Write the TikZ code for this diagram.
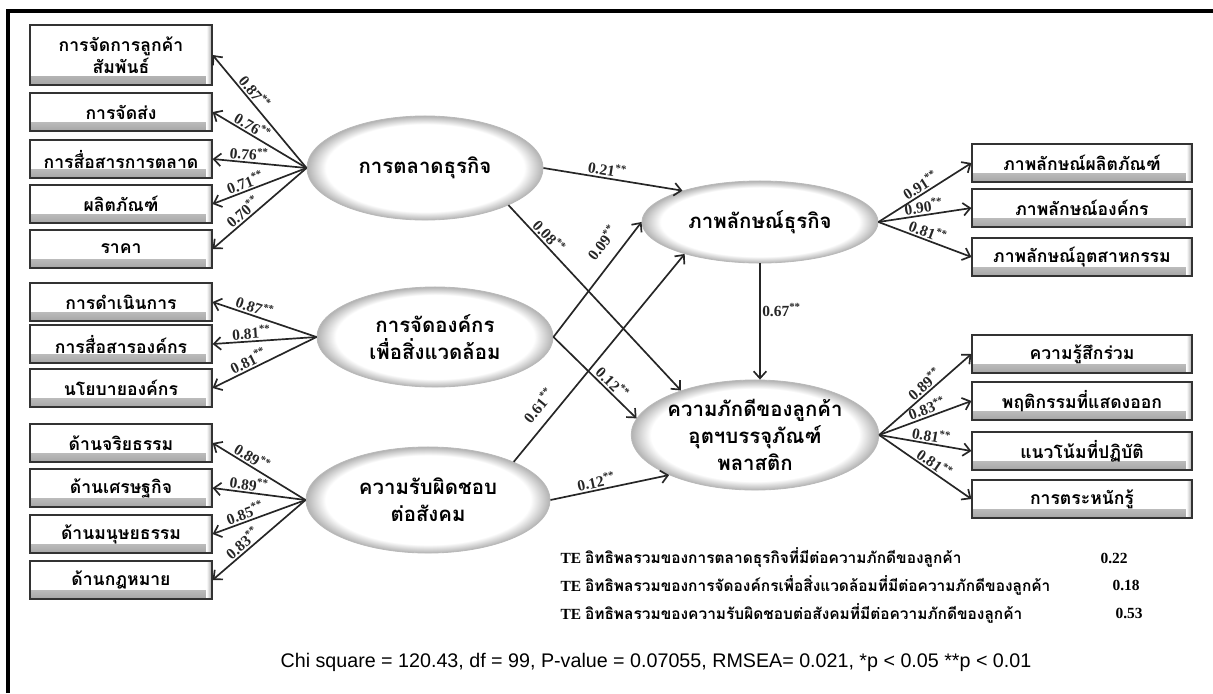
\documentclass[tikz,border=0pt]{standalone}
\usepackage{fontspec}
\setmainfont{Liberation Serif}
\newfontfamily\thaifont[Script=Thai]{Loma}
\newfontfamily\chifont{Liberation Sans}
\usetikzlibrary{shapes,shapes.geometric,arrows.meta}
\pgfdeclareradialshading{rimshade}{\pgfpointorigin}{color(0bp)=(white); color(21bp)=(white); color(25bp)=(gray!60); color(50bp)=(gray!60)}

\begin{document}
\begin{tikzpicture}
	[x=0.025cm,y=-0.025cm,thick,
	obs/.style={shape=rectangle,draw=black!80,line width=0.8pt,fill=white,
		minimum width=4.55cm,minimum height=0.95cm,align=center,inner sep=1pt,
		font=\thaifont\bfseries\fontsize{12.5}{16}\selectfont,
		path picture={\shade[top color=white,bottom color=gray!70]
			([yshift=0.22cm]path picture bounding box.south west) rectangle (path picture bounding box.south east);
			\shade[left color=white,right color=gray!70]
			([xshift=-0.14cm]path picture bounding box.north east) rectangle (path picture bounding box.south east);}},
	obsr/.style={obs,minimum width=5.5cm},
	lat/.style={shape=ellipse,draw=gray!55,line width=0.6pt,shade,shading=rimshade,
		inner sep=0pt,align=center,font=\thaifont\bfseries\fontsize{14.5}{19}\selectfont},
	load/.style={-{Straight Barb[length=5pt,width=9pt]},line width=1.2pt,black!85},
	coefh/.style={font=\bfseries\fontsize{11}{13}\selectfont,inner sep=1pt},
	coef/.style={coefh,sloped,above,pos=0.62},
	te/.style={anchor=west,font=\bfseries\fontsize{11}{13}\selectfont,inner sep=0pt}]
	\useasboundingbox (0,0) rectangle (1213,693);
	\draw[line width=2.2pt] (8,693) -- (8,11) -- (1213,11);
	
	\node[obs,minimum height=1.5cm] (m1) at (121,55) {การจัดการลูกค้า\\สัมพันธ์};
	\node[obs] (m2) at (121,112) {การจัดส่ง};
	\node[obs] (m3) at (121,159) {การสื่อสารการตลาด};
	\node[obs] (m4) at (121,204) {ผลิตภัณฑ์};
	\node[obs] (m5) at (121,249) {ราคา};
	
	\node[obs] (o1) at (121,302) {การดำเนินการ};
	\node[obs] (o2) at (121,344) {การสื่อสารองค์กร};
	\node[obs] (o3) at (121,388) {นโยบายองค์กร};
	
	\node[obs] (s1) at (121,443) {ด้านจริยธรรม};
	\node[obs] (s2) at (121,488) {ด้านเศรษฐกิจ};
	\node[obs] (s3) at (121,534) {ด้านมนุษยธรรม};
	\node[obs] (s4) at (121,580) {ด้านกฎหมาย};
	
	\node[obsr] (i1) at (1082,163) {ภาพลักษณ์ผลิตภัณฑ์};
	\node[obsr] (i2) at (1082,208) {ภาพลักษณ์องค์กร};
	\node[obsr] (i3) at (1082,257) {ภาพลักษณ์อุตสาหกรรม};
	
	\node[obsr] (l1) at (1082,354) {ความรู้สึกร่วม};
	\node[obsr] (l2) at (1082,401) {พฤติกรรมที่แสดงออก};
	\node[obsr] (l3) at (1082,451) {แนวโน้มที่ปฏิบัติ};
	\node[obsr] (l4) at (1082,499) {การตระหนักรู้};
	
	\node[lat,minimum width=5.9cm,minimum height=2.6cm] (mkt) at (425,168) {การตลาดธุรกิจ};
	\node[lat,minimum width=5.9cm,minimum height=2.5cm] (env) at (435,337) {การจัดองค์กร\\เพื่อสิ่งแวดล้อม};
	\node[lat,minimum width=6.1cm,minimum height=2.65cm] (csr) at (428,500) {ความรับผิดชอบ\\ต่อสังคม};
	\node[lat,minimum width=5.9cm,minimum height=2.05cm] (img) at (760,222) {ภาพลักษณ์ธุรกิจ};
	\node[lat,minimum width=5.75cm,minimum height=2.75cm] (loy) at (755,435) {ความภักดีของลูกค้า\\อุตฯบรรจุภัณฑ์\\พลาสติก};
	
	\path
	\foreach \ind/\val in {m1/0.87,m2/0.76,m3/0.76,m4/0.71,m5/0.70}
	{
		(mkt.west) edge[load] node[coef] {\val\textsuperscript{**}} (\ind.east)
	}
	\foreach \ind/\val in {o1/0.87,o2/0.81,o3/0.81}
	{
		(env.west) edge[load] node[coef] {\val\textsuperscript{**}} (\ind.east)
	}
	\foreach \ind/\val in {s1/0.89,s2/0.89,s3/0.85,s4/0.83}
	{
		(csr.west) edge[load] node[coef] {\val\textsuperscript{**}} (\ind.east)
	}
	\foreach \ind/\val in {i1/0.91,i2/0.90,i3/0.81}
	{
		(img.east) edge[load] node[coef,pos=0.5] {\val\textsuperscript{**}} (\ind.west)
	}
	\foreach \ind/\val in {l1/0.89,l2/0.83,l3/0.81,l4/0.81}
	{
		(loy.east) edge[load] node[coef,pos=0.55] {\val\textsuperscript{**}} (\ind.west)
	};
	
	\draw[load] (mkt.east) -- node[coef,pos=0.45] {0.21\textsuperscript{**}} (img.158);
	\draw[load] (mkt.-24) -- node[coef,pos=0.2] {0.08\textsuperscript{**}} (loy.149);
	\draw[load] (env.east) -- node[coef,pos=0.72,above=0.25cm] {0.09\textsuperscript{**}} (img.west);
	\draw[load] (env.east) -- node[coef,pos=0.64] {0.12\textsuperscript{**}} (loy.172);
	\draw[load] (csr.24) -- node[coef,pos=0.22,above=0.2cm] {0.61\textsuperscript{**}} (img.203);
	\draw[load] (csr.east) -- node[coef,pos=0.4] {0.12\textsuperscript{**}} (loy.205);
	\draw[load] (img.south) -- node[coefh,right,pos=0.4] {0.67\textsuperscript{**}} (img.south |- loy.north);
	
	\node[te] (te1) at (560,558) {TE {\thaifont อิทธิพลรวมของการตลาดธุรกิจที่มีต่อความภักดีของลูกค้า}};
	\node[te] (te2) at (560,585) {TE {\thaifont อิทธิพลรวมของการจัดองค์กรเพื่อสิ่งแวดล้อมที่มีต่อความภักดีของลูกค้า}};
	\node[te] (te3) at (560,613) {TE {\thaifont อิทธิพลรวมของความรับผิดชอบต่อสังคมที่มีต่อความภักดีของลูกค้า}};
	\node[te] (v1) at (1100,558) {0.22};
	\node[te] (v2) at (1112,585) {0.18};
	\node[te] (v3) at (1115,613) {0.53};
	
	\node[font=\chifont\fontsize{14}{16}\selectfont] (chi) at (656,662) {Chi square = 120.43, df = 99, P-value = 0.07055, RMSEA= 0.021, *p < 0.05 **p < 0.01};
\end{tikzpicture}
\end{document}
